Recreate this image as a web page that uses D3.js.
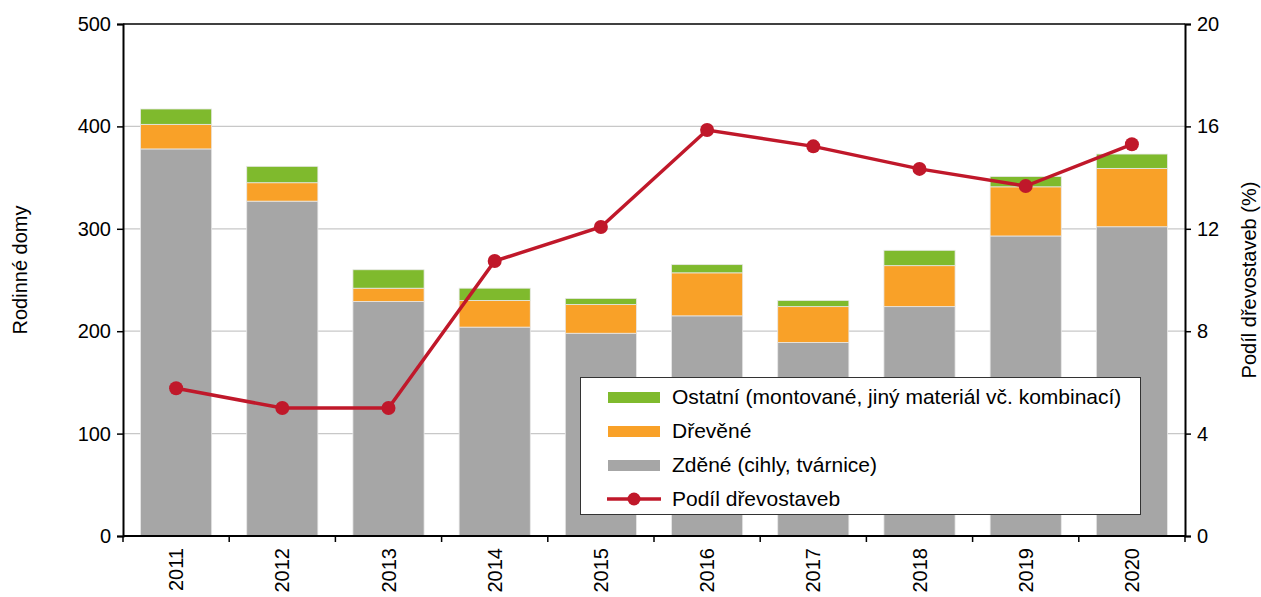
<!DOCTYPE html>
<html><head><meta charset="utf-8">
<script src="https://cdn.jsdelivr.net/npm/d3@7"></script>
<style>body{margin:0;background:#fff}svg{display:block;font-family:"Liberation Sans",Arial,sans-serif}</style>
</head><body>
<svg id="c" width="1261" height="597"></svg>
<script>
const years = ["2011","2012","2013","2014","2015","2016","2017","2018","2019","2020"];
const zdene = [378,327,229,204,198,215,189,224,293,302];
const drevene = [24,18,13,26,28,42,35,40,48,57];
const ostatni = [15,16,18,12,6,8,6,15,10,14];
const podil = [5.77,5.0,5.0,10.74,12.07,15.86,15.22,14.34,13.67,15.3];
const leftTicks = [0,100,200,300,400,500];
const rightTicks = [0,4,8,12,16,20];
const seriesNames = ["Ostatní (montované, jiný materiál vč. kombinací)","Dřevěné","Zděné (cihly, tvárnice)","Podíl dřevostaveb"];
const colors = {zdene:"#a6a6a6", drevene:"#f9a128", ostatni:"#7fba2d", line:"#c0182a"};

const svg = d3.select("#c");
const L=123, R=1185, T=24, B=536;
const x = d3.scaleBand().domain(years).range([L,R]).paddingInner(0.33).paddingOuter(0.165);
const xb = d3.scaleBand().domain(years).range([L,R]);
const y = d3.scaleLinear().domain([0,500]).range([B,T]);
const y2 = d3.scaleLinear().domain([0,20]).range([B,T]);

// grid
svg.append("g").selectAll("line").data(leftTicks.filter(d=>d>0&&d<500)).join("line")
  .attr("x1",L).attr("x2",R).attr("y1",d=>y(d)).attr("y2",d=>y(d))
  .attr("stroke","#c8c8c8").attr("stroke-width",1.3);

// stacked bars
const rows = years.map((yr,i)=>({year:yr,zdene:zdene[i],drevene:drevene[i],ostatni:ostatni[i]}));
const stack = d3.stack().keys(["zdene","drevene","ostatni"])(rows);
svg.append("g").selectAll("g").data(stack).join("g")
  .attr("fill",d=>colors[d.key])
  .selectAll("rect").data(d=>d).join("rect")
  .attr("x",d=>x(d.data.year)).attr("width",x.bandwidth())
  .attr("y",d=>y(d[1])).attr("height",d=>y(d[0])-y(d[1]))
  .attr("stroke","#e8e8e8").attr("stroke-width",0.8);

// line
const lineGen = d3.line().x((d,i)=>xb(years[i])+xb.bandwidth()/2).y(d=>y2(d));
svg.append("path").datum(podil).attr("d",lineGen).attr("fill","none")
  .attr("stroke",colors.line).attr("stroke-width",3.5);
svg.append("g").selectAll("circle").data(podil).join("circle")
  .attr("cx",(d,i)=>xb(years[i])+xb.bandwidth()/2).attr("cy",d=>y2(d)).attr("r",7)
  .attr("fill",colors.line);

// frame lines
svg.append("line").attr("x1",L).attr("x2",R).attr("y1",T).attr("y2",T).attr("stroke","#000").attr("stroke-width",1.5);

// axes
const fs = "20px";
const gl = svg.append("g").attr("transform",`translate(${L},0)`)
  .call(d3.axisLeft(y).tickValues(leftTicks).tickSize(6).tickPadding(6));
const gr = svg.append("g").attr("transform",`translate(${R},0)`)
  .call(d3.axisRight(y2).tickValues(rightTicks).tickSize(6).tickPadding(6));
const gb = svg.append("g").attr("transform",`translate(0,${B})`)
  .call(d3.axisBottom(xb).tickSize(0).tickPadding(0));
[gl,gr,gb].forEach(g=>{
  g.select(".domain").attr("stroke","#000").attr("stroke-width",2);
  g.selectAll(".tick line").attr("stroke","#000").attr("stroke-width",1.5);
  g.selectAll("text").attr("font-size",fs).attr("fill","#000").attr("font-family","Liberation Sans, Arial, sans-serif");
});
gb.select(".domain").attr("d",`M${L},0H${R}`);
gb.selectAll(".tick text").attr("transform","rotate(-90)").attr("x",-12).attr("y",0)
  .attr("dy","0.35em").attr("text-anchor","end");
// boundary ticks on x axis
svg.append("g").selectAll("line").data(years.concat(["end"])).join("line")
  .attr("x1",(d,i)=>L+i*xb.step()).attr("x2",(d,i)=>L+i*xb.step())
  .attr("y1",B).attr("y2",B+6).attr("stroke","#000").attr("stroke-width",1.5);

// axis titles
svg.append("text").attr("transform",`translate(20,270) rotate(-90)`).attr("text-anchor","middle")
  .attr("dy","0.35em").attr("font-size",fs).text("Rodinné domy");
svg.append("text").attr("transform",`translate(1249,280) rotate(-90)`).attr("text-anchor","middle")
  .attr("dy","0.35em").attr("font-size",fs).text("Podíl dřevostaveb (%)");

// legend
const lg = svg.append("g");
lg.append("rect").attr("x",580.5).attr("y",377.5).attr("width",560).attr("height",137)
  .attr("fill","#fff").attr("stroke","#333").attr("stroke-width",1);
const lcols=[colors.ostatni,colors.drevene,colors.zdene];
seriesNames.forEach((n,i)=>{
  const cy = 397 + i*34;
  if(i<3){
    lg.append("rect").attr("x",608).attr("y",cy-5).attr("width",52).attr("height",11).attr("fill",lcols[i]);
  } else {
    lg.append("line").attr("x1",607).attr("x2",661).attr("y1",cy).attr("y2",cy).attr("stroke",colors.line).attr("stroke-width",3.5);
    lg.append("circle").attr("cx",634).attr("cy",cy).attr("r",6.5).attr("fill",colors.line);
  }
  lg.append("text").attr("x",672).attr("y",cy).attr("dy","0.35em").attr("font-size","21px").text(n);
});
</script>
</body></html>
